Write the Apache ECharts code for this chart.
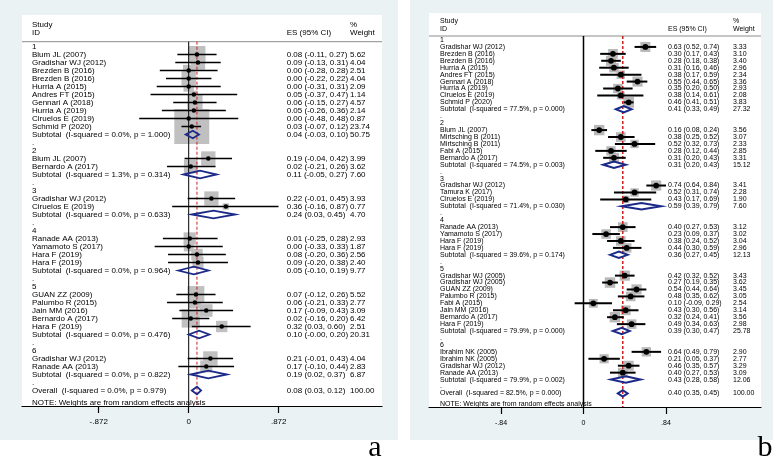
<!DOCTYPE html>
<html><head><meta charset="utf-8">
<script src="https://cdn.jsdelivr.net/npm/echarts@6/dist/echarts.min.js"></script>
<style>html,body{margin:0;padding:0;background:#fff}#c{width:778px;height:459px}</style>
</head><body><div id="c"></div>
<script>
// ---------------- Panel a data ----------------
const aGroupLabels = ["1", "2", "3", "4", "5", "6"];
const aStudy = [
  "Blum JL (2007)", "Gradishar WJ (2012)", "Brezden B (2016)", "Brezden B (2016)", "Hurria A (2015)",
  "Andres FT (2015)", "Gennari A (2018)", "Hurria A (2019)", "Ciruelos E (2019)", "Schmid P (2020)",
  "Blum JL (2007)", "Bernardo A (2017)",
  "Gradishar WJ (2012)", "Ciruelos E (2019)",
  "Ranade AA (2013)", "Yamamoto S (2017)", "Hara F (2019)", "Hara F (2019)",
  "GUAN ZZ (2009)", "Palumbo R (2015)", "Jain MM (2016)", "Bernardo A (2017)", "Hara F (2019)",
  "Gradishar WJ (2012)", "Ranade AA (2013)"
];
const aStudyGroup = [0,0,0,0,0,0,0,0,0,0, 1,1, 2,2, 3,3,3,3, 4,4,4,4,4, 5,5];
const aES = [0.08,0.09,0.00,0.00,0.00,0.05,0.06,0.05,0.00,0.03, 0.19,0.02, 0.22,0.36, 0.01,0.00,0.08,0.09, 0.07,0.06,0.17,0.02,0.32, 0.21,0.17];
const aLo = [-0.11,-0.13,-0.28,-0.22,-0.31,-0.37,-0.15,-0.26,-0.48,-0.07, -0.04,-0.21, -0.01,-0.16, -0.25,-0.33,-0.20,-0.20, -0.12,-0.21,-0.09,-0.16,0.03, -0.01,-0.10];
const aHi = [0.27,0.31,0.28,0.22,0.31,0.47,0.27,0.36,0.48,0.12, 0.42,0.26, 0.45,0.87, 0.28,0.33,0.36,0.38, 0.26,0.33,0.43,0.20,0.60, 0.43,0.44];
const aWeight = [5.62,4.04,2.51,4.04,2.09,1.14,4.57,2.14,0.87,23.74, 3.99,3.62, 3.93,0.77, 2.93,1.87,2.56,2.40, 5.52,2.77,3.09,6.42,2.51, 4.04,2.83];
const aSubES = [0.04, 0.11, 0.24, 0.05, 0.10, 0.19];
const aSubLo = [-0.03, -0.05, 0.03, -0.10, -0.00, 0.02];
const aSubHi = [0.10, 0.27, 0.45, 0.19, 0.20, 0.37];
const aSubWeight = [50.75, 7.60, 4.70, 9.77, 20.31, 6.87];
const aSubI2 = [0.0, 1.3, 0.0, 0.0, 0.0, 0.0];
const aSubP = [1.000, 0.314, 0.633, 0.964, 0.476, 0.822];
const aOverall = [0.08, 0.03, 0.12, 100.00];   // es, lo, hi, weight
const aOverallI2P = [0.0, 0.979];
const aTicks = [-0.872, 0, 0.872];
const aTickLabels = ["-.872", "0", ".872"];

// ---------------- Panel b data ----------------
const bGroupLabels = ["1", "2", "3", "4", "5", "6"];
const bStudy = [
  "Gradishar WJ (2012)", "Brezden B (2016)", "Brezden B (2016)", "Hurria A (2015)", "Andres FT (2015)",
  "Gennari A (2018)", "Hurria A (2019)", "Ciruelos E (2019)", "Schmid P (2020)",
  "Blum JL (2007)", "Mirtsching B (2011)", "Mirtsching B (2011)", "Fabi A (2015)", "Bernardo A (2017)",
  "Gradishar WJ (2012)", "Tamura K (2017)", "Ciruelos E (2019)",
  "Ranade AA (2013)", "Yamamoto S (2017)", "Hara F (2019)", "Hara F (2019)",
  "Gradishar WJ (2005)", "Gradishar WJ (2005)", "GUAN ZZ (2009)", "Palumbo R (2015)", "Fabi A (2015)",
  "Jain MM (2016)", "Bernardo A (2017)", "Hara F (2019)",
  "Ibrahim NK (2005)", "Ibrahim NK (2005)", "Gradishar WJ (2012)", "Ranade AA (2013)"
];
const bStudyGroup = [0,0,0,0,0,0,0,0,0, 1,1,1,1,1, 2,2,2, 3,3,3,3, 4,4,4,4,4,4,4,4, 5,5,5,5];
const bES = [0.63,0.30,0.28,0.31,0.38,0.55,0.35,0.38,0.46, 0.16,0.38,0.52,0.28,0.31, 0.74,0.52,0.43, 0.40,0.23,0.38,0.44, 0.42,0.27,0.54,0.48,0.10,0.43,0.32,0.49, 0.64,0.21,0.46,0.40];
const bLo = [0.52,0.17,0.18,0.16,0.17,0.44,0.20,0.14,0.41, 0.08,0.25,0.32,0.12,0.20, 0.64,0.31,0.17, 0.27,0.09,0.24,0.30, 0.32,0.19,0.44,0.35,-0.09,0.30,0.24,0.34, 0.49,0.05,0.35,0.27];
const bHi = [0.74,0.43,0.38,0.46,0.59,0.65,0.50,0.61,0.51, 0.24,0.52,0.73,0.44,0.43, 0.84,0.74,0.69, 0.53,0.37,0.52,0.59, 0.52,0.35,0.64,0.62,0.29,0.56,0.41,0.63, 0.79,0.37,0.57,0.53];
const bWeight = [3.33,3.10,3.40,2.96,2.34,3.36,2.93,2.08,3.83, 3.56,3.07,2.33,2.85,3.31, 3.41,2.28,1.90, 3.12,3.02,3.04,2.96, 3.43,3.62,3.45,3.05,2.54,3.14,3.56,2.98, 2.90,2.77,3.29,3.09];
const bSubES = [0.41, 0.31, 0.59, 0.36, 0.39, 0.43];
const bSubLo = [0.33, 0.20, 0.39, 0.27, 0.30, 0.28];
const bSubHi = [0.49, 0.43, 0.79, 0.45, 0.47, 0.58];
const bSubWeight = [27.32, 15.12, 7.60, 12.13, 25.78, 12.06];
const bSubI2 = [77.5, 74.5, 71.4, 39.6, 79.9, 79.9];
const bSubP = [0.000, 0.003, 0.030, 0.174, 0.000, 0.002];
const bOverall = [0.40, 0.35, 0.45, 100.00];
const bOverallI2P = [82.5, 0.000];
const bTicks = [-0.84, 0, 0.84];
const bTickLabels = ["-.84", "0", ".84"];

// ---------------- helpers ----------------
const FONT = '"Liberation Sans", Arial, Helvetica, sans-serif';
function f2(v) { return (Object.is(v, -0) ? "-" : "") + v.toFixed(2); }
function esText(r) { return f2(r.es) + " (" + f2(r.lo) + ", " + f2(r.hi) + ")"; }

function buildRows(groups, study, sg, es, lo, hi, w, sEs, sLo, sHi, sW, sI2, sP, ov, ovIP) {
  const rows = [];
  groups.forEach((g, gi) => {
    rows.push({kind: 'head', label: g});
    study.forEach((s, i) => {
      if (sg[i] === gi) rows.push({kind: 'study', label: s, es: es[i], lo: lo[i], hi: hi[i], w: w[i]});
    });
    rows.push({kind: 'sub', label: 'Subtotal  (I-squared = ' + sI2[gi].toFixed(1) + '%, p = ' + sP[gi].toFixed(3) + ')',
      es: sEs[gi], lo: sLo[gi], hi: sHi[gi], w: sW[gi]});
    rows.push({kind: 'blank', label: '.'});
  });
  rows.push({kind: 'overall', label: 'Overall  (I-squared = ' + ovIP[0].toFixed(1) + '%, p = ' + ovIP[1].toFixed(3) + ')',
    es: ov[0], lo: ov[1], hi: ov[2], w: ov[3]});
  return rows;
}

const rowsA = buildRows(aGroupLabels, aStudy, aStudyGroup, aES, aLo, aHi, aWeight, aSubES, aSubLo, aSubHi, aSubWeight, aSubI2, aSubP, aOverall, aOverallI2P);
const rowsB = buildRows(bGroupLabels, bStudy, bStudyGroup, bES, bLo, bHi, bWeight, bSubES, bSubLo, bSubHi, bSubWeight, bSubI2, bSubP, bOverall, bOverallI2P);

const styleA = {fontSize: 8, labelX: 10, esX: 264.7, wX: 328, boxK: 7.18, boxColor: '#c0c0c0', ciWidth: 1.5, dotR: 2.3,
  diaH: 3.8, diaW: 1.8, headStudy: 10, headID: 18, headLine: 26.7, zeroW: 1, refW: 1};
const styleB = {fontSize: 7, labelX: 11, esX: 239, wX: 304, boxK: 5.5, boxColor: '#b8b8b8', ciWidth: 2, dotR: 2.9,
  diaH: 3.2, diaW: 2, headStudy: 8.5, headID: 16, headLine: 23, zeroW: 1.5, refW: 1.5};
const DIAMOND = '#1b2a88';

function txt(text, x, y, st, extra) {
  return Object.assign({type: 'text', z2: 10, style: {text: text, x: x, y: y, fill: '#000',
    font: st.fontSize + 'px ' + FONT, align: 'left', verticalAlign: 'middle'}}, extra || {});
}

function rowRenderer(rows, st) {
  return function (params, api) {
    const i = params.dataIndex;
    const r = rows[i];
    const cs = params.coordSys;
    const y = api.coord([0, i])[1];
    const ch = [txt(r.label, cs.x + st.labelX, y, st)];
    if (r.kind === 'study' || r.kind === 'sub' || r.kind === 'overall') {
      ch.push(txt(esText(r), cs.x + st.esX, y, st));
      ch.push(txt(r.w.toFixed(2), cs.x + st.wX, y, st));
      const xe = api.coord([r.es, i])[0], xl = api.coord([r.lo, i])[0], xh = api.coord([r.hi, i])[0];
      if (r.kind === 'study') {
        const s = st.boxK * Math.sqrt(r.w);
        ch.push({type: 'rect', z2: 1, shape: {x: xe - s / 2, y: y - s / 2, width: s, height: s}, style: {fill: st.boxColor}});
        ch.push({type: 'line', z2: 5, shape: {x1: xl, y1: y, x2: xh, y2: y}, style: {stroke: '#000', lineWidth: st.ciWidth}});
        ch.push({type: 'circle', z2: 6, shape: {cx: xe, cy: y, r: st.dotR}, style: {fill: '#000'}});
      } else {
        ch.push({type: 'polygon', z2: 7, shape: {points: [[xl, y], [xe, y - st.diaH], [xh, y], [xe, y + st.diaH]]},
          style: {fill: 'none', stroke: DIAMOND, lineWidth: st.diaW, lineJoin: 'miter'}});
      }
    }
    return {type: 'group', children: ch};
  };
}

function decorRenderer(rows, st, overall) {
  return function (params, api) {
    const cs = params.coordSys;
    const ch = [];
    const yTop = cs.y + st.headLine;
    const yBot = cs.y + cs.height;
    ch.push(txt('Study', cs.x + st.labelX, cs.y + st.headStudy, st));
    ch.push(txt('ID', cs.x + st.labelX, cs.y + st.headID, st));
    ch.push(txt('ES (95% CI)', cs.x + st.esX, cs.y + st.headID, st));
    ch.push(txt('%', cs.x + st.wX, cs.y + st.headStudy, st));
    ch.push(txt('Weight', cs.x + st.wX, cs.y + st.headID, st));
    ch.push({type: 'line', z2: 2, shape: {x1: cs.x, y1: yTop, x2: cs.x + cs.width, y2: yTop}, style: {stroke: '#8c8c8c', lineWidth: 1}});
    const x0 = api.coord([0, 0])[0];
    ch.push({type: 'line', z2: 3, shape: {x1: x0, y1: yTop, x2: x0, y2: yBot}, style: {stroke: '#000', lineWidth: st.zeroW}});
    const xo = api.coord([overall[0], 0])[0];
    ch.push({type: 'line', z2: 4, shape: {x1: xo, y1: yTop, x2: xo, y2: yBot},
      style: {stroke: '#cc1f1f', lineWidth: st.refW, lineDash: [3, 2]}});
    const yNote = api.coord([0, rows.length - 1 + 1.5])[1];
    ch.push(txt('NOTE: Weights are from random effects analysis', cs.x + st.labelX, yNote, st));
    return {type: 'group', children: ch};
  };
}

function xAxisCfg(gi, min, max, ticks, labels, fs, margin) {
  return {
    gridIndex: gi, type: 'value', min: min, max: max,
    splitLine: {show: false},
    axisLine: {show: true, onZero: false, lineStyle: {color: '#000', width: 1.2}},
    axisTick: {show: true, customValues: ticks, length: 7, lineStyle: {color: '#000', width: 1.2}},
    axisLabel: {show: true, customValues: ticks, margin: margin, color: '#000', fontSize: fs, fontFamily: FONT,
      formatter: function (v) {
        let k = 0;
        ticks.forEach((t, j) => { if (Math.abs(t - v) < Math.abs(ticks[k] - v)) k = j; });
        return labels[k];
      }}
  };
}

const chart = echarts.init(document.getElementById('c'), null, {renderer: 'canvas'});
chart.setOption({
  animation: false,
  graphic: [
    {type: 'rect', z: -100, shape: {x: 0, y: 0, width: 398, height: 440}, style: {fill: '#eaf2f3'}},
    {type: 'rect', z: -100, shape: {x: 410, y: 0, width: 363, height: 440}, style: {fill: '#eaf2f3'}},
    {type: 'text', z: 10, x: 375, y: 448, style: {text: 'a', x: 0, y: 0, align: 'center', verticalAlign: 'middle',
      font: '30px "Liberation Serif", "Times New Roman", serif', fill: '#000'}},
    {type: 'text', z: 10, x: 765, y: 448, style: {text: 'b', x: 0, y: 0, align: 'center', verticalAlign: 'middle',
      font: '30px "Liberation Serif", "Times New Roman", serif', fill: '#000'}}
  ],
  grid: [
    {left: 22, top: 15, width: 360, height: 391, show: true, backgroundColor: '#fff', borderWidth: 0},
    {left: 429, top: 13, width: 332, height: 394, show: true, backgroundColor: '#fff', borderWidth: 0}
  ],
  xAxis: [
    xAxisCfg(0, (22 - 188.7) / 103.2, (382 - 188.7) / 103.2, aTicks, aTickLabels, 8, 12),
    xAxisCfg(1, (429 - 583.5) / 98.2, (761 - 583.5) / 98.2, bTicks, bTickLabels, 7, 12.5)
  ],
  yAxis: [
    {gridIndex: 0, type: 'value', inverse: true, min: -(46.5 - 15) / 8.0, max: -(46.5 - 15) / 8.0 + 391 / 8.0, show: false, splitLine: {show: false}},
    {gridIndex: 1, type: 'value', inverse: true, min: -(40 - 13) / 6.93, max: -(40 - 13) / 6.93 + 394 / 6.93, show: false, splitLine: {show: false}}
  ],
  series: [
    {type: 'custom', xAxisIndex: 0, yAxisIndex: 0, encode: {x: 0, y: 1},
      data: [[0, 0]], renderItem: decorRenderer(rowsA, styleA, aOverall)},
    {type: 'custom', xAxisIndex: 0, yAxisIndex: 0, encode: {x: 0, y: 1},
      data: rowsA.map((r, i) => [r.es === undefined ? 0 : r.es, i]), renderItem: rowRenderer(rowsA, styleA)},
    {type: 'custom', xAxisIndex: 1, yAxisIndex: 1, encode: {x: 0, y: 1},
      data: [[0, 0]], renderItem: decorRenderer(rowsB, styleB, bOverall)},
    {type: 'custom', xAxisIndex: 1, yAxisIndex: 1, encode: {x: 0, y: 1},
      data: rowsB.map((r, i) => [r.es === undefined ? 0 : r.es, i]), renderItem: rowRenderer(rowsB, styleB)}
  ]
});
</script>
</body></html>
